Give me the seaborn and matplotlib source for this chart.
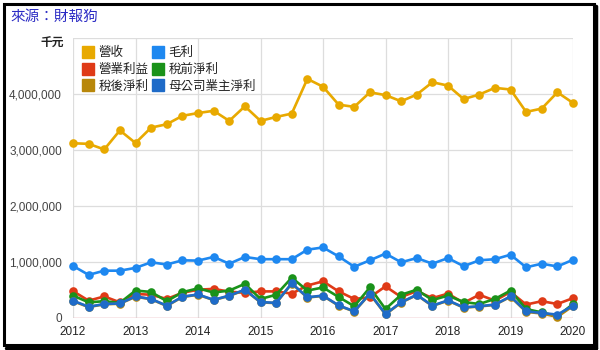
import matplotlib
matplotlib.use("Agg")
import matplotlib.pyplot as plt
import seaborn as sns
import pandas as pd
from matplotlib.patches import Rectangle
from matplotlib.lines import Line2D

quarters = [f"{y}Q{q}" for y in range(2012, 2020) for q in range(1, 5)] + ["2020Q1"]

revenue = [3120000, 3110000, 3010000, 3350000, 3125000, 3400000, 3460000, 3610000,
           3660000, 3700000, 3520000, 3780000, 3520000, 3590000, 3650000, 4270000,
           4130000, 3810000, 3770000, 4030000, 3980000, 3870000, 3990000, 4210000,
           4150000, 3910000, 3990000, 4110000, 4080000, 3680000, 3740000, 4030000,
           3840000]
gross = [930000, 770000, 845000, 845000, 895000, 995000, 955000, 1030000,
         1025000, 1090000, 970000, 1090000, 1050000, 1050000, 1050000, 1220000,
         1260000, 1100000, 915000, 1030000, 1150000, 995000, 1070000, 970000,
         1070000, 925000, 1030000, 1050000, 1130000, 905000, 970000, 920000,
         1040000]
operating = [480000, 310000, 385000, 280000, 430000, 415000, 340000, 450000,
             505000, 520000, 470000, 450000, 475000, 475000, 435000, 580000,
             655000, 475000, 340000, 370000, 565000, 375000, 480000, 355000,
             435000, 270000, 415000, 310000, 465000, 240000, 300000, 250000,
             355000]
pretax = [400000, 280000, 300000, 270000, 490000, 465000, 300000, 460000,
          530000, 455000, 490000, 610000, 340000, 415000, 720000, 490000,
          545000, 375000, 210000, 545000, 160000, 415000, 505000, 320000,
          400000, 285000, 250000, 340000, 490000, 160000, 100000, 30000,
          250000]
aftertax = [300000, 195000, 245000, 255000, 380000, 335000, 215000, 375000,
            415000, 320000, 395000, 500000, 280000, 265000, 615000, 365000,
            395000, 220000, 115000, 430000, 65000, 275000, 410000, 215000,
            310000, 185000, 205000, 235000, 380000, 110000, 80000, 20000,
            215000]
parent = [310000, 200000, 250000, 260000, 385000, 340000, 220000, 380000,
          420000, 325000, 400000, 505000, 285000, 270000, 620000, 370000,
          400000, 225000, 120000, 435000, 70000, 280000, 415000, 220000,
          315000, 190000, 210000, 240000, 385000, 120000, 90000, 60000,
          220000]

series_names = ["營收", "毛利", "營業利益", "稅前淨利", "稅後淨利", "母公司業主淨利"]
series_vals = [revenue, gross, operating, pretax, aftertax, parent]
colors = ["#E8A900", "#1E88F0", "#DF3A17", "#1A921A", "#B8870A", "#1E6BC8"]
year_ticks = [2012, 2013, 2014, 2015, 2016, 2017, 2018, 2019, 2020]
y_ticks = [0, 1000000, 2000000, 3000000, 4000000, 5000000]

t = [int(q[:4]) + (int(q[-1]) - 1) * 0.25 for q in quarters]
rows = []
for name, vals in zip(series_names, series_vals):
    for tt, v in zip(t, vals):
        rows.append({"t": tt, "v": v, "series": name})
df = pd.DataFrame(rows)

sns.set_style("white")
plt.rcParams['font.family'] = ['Liberation Sans', 'Noto Sans CJK TC', 'DejaVu Sans']

fig = plt.figure(figsize=(6, 3.5), dpi=100)
ax = fig.add_axes([73/600, 1-318/350, 500/600, 280/350])

palette = dict(zip(series_names, colors))
sns.lineplot(data=df, x="t", y="v", hue="series", hue_order=series_names,
             palette=palette, marker="o", markersize=6.2, markeredgewidth=0,
             linewidth=1.9, ax=ax, legend=False, clip_on=False, zorder=3)
for ln in ax.lines:
    ln.set_clip_on(False)

ax.set_xlim(2012, 2020)
ax.set_ylim(0, 5000000)
ax.set_xticks(year_ticks)
ax.set_xticklabels([str(y) for y in year_ticks], fontsize=8.5, color="#222222")
ax.set_yticks(y_ticks)
ax.set_yticklabels([f"{v:,}" if v < 5000000 else "" for v in y_ticks],
                   fontsize=8.5, color="#444444")
ax.tick_params(axis="both", length=0)
ax.tick_params(axis="x", pad=6)
ax.tick_params(axis="y", pad=8)
ax.grid(True, color="#DDDDDD", linewidth=0.9, zorder=0)
ax.set_axisbelow(True)
for s in ax.spines.values():
    s.set_visible(False)
ax.axhline(0, color="#F2A3AC", linewidth=1.0, zorder=2)
ax.set_xlabel("")
ax.set_ylabel("")

# legend
leg_order = [0, 2, 4, 1, 3, 5]
handles = [Line2D([], [], linestyle="none", marker="s", markersize=8.5,
                  markerfacecolor=colors[i], markeredgecolor=colors[i])
           for i in leg_order]
labels = [series_names[i] for i in leg_order]
leg = ax.legend(handles, labels, ncol=2, loc="upper left",
                bbox_to_anchor=(0.003, 1.0), frameon=False,
                prop={"family": ["Noto Sans CJK TC"], "size": 9},
                handlelength=0.9, handletextpad=0.35, columnspacing=0.35,
                labelspacing=0.3, borderaxespad=0.25)
for txt in leg.get_texts():
    txt.set_color("#222222")

fig.text(52/600, 1-43/350, "千元", fontsize=8.5, fontweight="bold",
         family=["Noto Sans CJK TC"], ha="center", va="center", color="#222222")
fig.text(10/600, 1-17/350, "來源：財報狗", fontsize=10.5,
         family=["Noto Sans CJK TC"], ha="left", va="center", color="#2B2BC4")

# frame with shadow
fig.patches.append(Rectangle((4/600, 5/350), 590/600, 341/350, transform=fig.transFigure,
                             fill=False, edgecolor="black", linewidth=2.2))
fig.add_artist(Line2D([595.5/600, 595.5/600], [2/350, 344/350], transform=fig.transFigure,
                      color="black", linewidth=2.5))
fig.add_artist(Line2D([6/600, 596/600], [2.5/350, 2.5/350], transform=fig.transFigure,
                      color="black", linewidth=2.5))

fig.savefig("out.png", dpi=100)
